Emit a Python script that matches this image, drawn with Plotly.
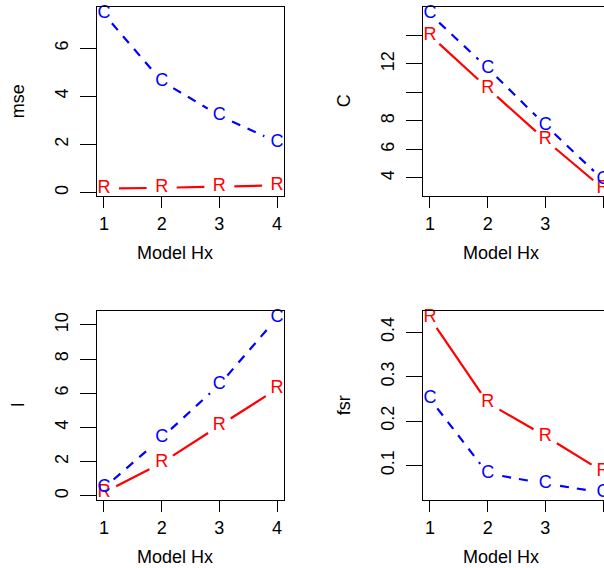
import math
import plotly.graph_objects as go

# ---------------- data ----------------
hx = [1, 2, 3, 4]
mse_R = [0.17, 0.20, 0.25, 0.30]
mse_C = [7.42, 4.63, 3.20, 2.10]
C_R = [14.0, 10.3, 6.66, 3.25]
C_C = [15.5, 11.7, 7.70, 3.86]
I_R = [0.20, 1.93, 4.10, 6.26]
I_C = [0.47, 3.40, 6.50, 10.40]
fsr_R = [0.432, 0.241, 0.166, 0.086]
fsr_C = [0.250, 0.082, 0.059, 0.039]

x_ticks = [1, 2, 3, 4]
mse_ticks = [0, 2, 4, 6]
C_ticks = [4, 6, 8, 10, 12, 14]
C_ticklabels = ["4", "6", "8", "", "12", ""]
I_ticks = [0, 2, 4, 6, 8, 10]
fsr_ticks = [0.1, 0.2, 0.3, 0.4]

ylabels = ["mse", "C", "I", "fsr"]
xlabel = "Model Hx"

# ---------------- layout geometry (pixels) ----------------
W, H = 604, 568
BOX_W, BOX_H = 187, 188.5
panels = [
    dict(x0=97, y0=7, R=mse_R, C=mse_C, tv=mse_ticks, tt=None, lab=ylabels[0]),
    dict(x0=423, y0=7, R=C_R, C=C_C, tv=C_ticks, tt=C_ticklabels, lab=ylabels[1]),
    dict(x0=97, y0=311, R=I_R, C=I_C, tv=I_ticks, tt=None, lab=ylabels[2]),
    dict(x0=423, y0=311, R=fsr_R, C=fsr_C, tv=fsr_ticks, tt=None, lab=ylabels[3]),
]
FONT = "Liberation Sans, Arial, Helvetica, sans-serif"
FS = 18
RX, RY = 15, 11  # gap around point glyphs (px)


def rrange(vals):
    lo, hi = min(vals), max(vals)
    e = (hi - lo) * 0.04
    return [lo - e, hi + e]


fig = go.Figure()
annotations = []

for k, p in enumerate(panels):
    idx = "" if k == 0 else str(k + 1)
    xr = rrange(hx)
    yr = rrange(p["R"] + p["C"])
    x0, y0 = p["x0"], p["y0"]
    x1 = min(x0 + BOX_W, W)
    xr_vis = [xr[0], xr[0] + (x1 - x0) / BOX_W * (xr[1] - xr[0])]

    def to_px(x, y):
        return (x0 + (x - xr[0]) / (xr[1] - xr[0]) * BOX_W,
                y0 + (yr[1] - y) / (yr[1] - yr[0]) * BOX_H)

    def to_data(px, py):
        return (xr[0] + (px - x0) / BOX_W * (xr[1] - xr[0]),
                yr[1] - (py - y0) / BOX_H * (yr[1] - yr[0]))

    def gapped(ys):
        sx, sy = [], []
        for i in range(len(hx) - 1):
            ax, ay = to_px(hx[i], ys[i])
            bx, by = to_px(hx[i + 1], ys[i + 1])
            dx, dy = bx - ax, by - ay
            L = math.hypot(dx, dy)
            ux, uy = dx / L, dy / L
            t = 1 / math.sqrt((ux / RX) ** 2 + (uy / RY) ** 2)
            if 2 * t >= L:
                continue
            s = to_data(ax + ux * t, ay + uy * t)
            e = to_data(bx - ux * t, by - uy * t)
            sx += [s[0], e[0], None]
            sy += [s[1], e[1], None]
        return sx, sy

    xa, ya = "x" + idx, "y" + idx
    for ser, col, dash, letter in [(p["R"], "#ff0000", "solid", "R"),
                                   (p["C"], "#0000ff", "9px,8px", "C")]:
        sx, sy = gapped(ser)
        fig.add_trace(go.Scatter(x=sx, y=sy, mode="lines", xaxis=xa, yaxis=ya,
                                 line=dict(color=col, width=2.2, dash=dash),
                                 hoverinfo="skip", showlegend=False))
        fig.add_trace(go.Scatter(x=hx, y=ser, mode="text", text=[letter] * len(hx),
                                 textposition="middle center", xaxis=xa, yaxis=ya,
                                 textfont=dict(color=col, size=FS, family=FONT),
                                 cliponaxis=False, showlegend=False))

    axis_common = dict(showline=True, linecolor="black", linewidth=1.3,
                       showgrid=False, zeroline=False, ticks="outside",
                       tickcolor="black", tickwidth=1.2,
                       tickfont=dict(size=FS, family=FONT, color="black"))
    xkey = "xaxis" + idx
    ykey = "yaxis" + idx
    fig.layout[xkey] = dict(axis_common, domain=[x0 / W, x1 / W], range=xr_vis,
                            tickvals=x_ticks, ticklen=11, mirror=True,
                            anchor=ya, fixedrange=True, ticklabelstandoff=1)
    ykw = dict(axis_common, domain=[(H - y0 - BOX_H) / H, (H - y0) / H], range=yr,
               tickvals=p["tv"], ticklen=16, tickangle=-90,
               mirror=(x0 + BOX_W <= W), anchor=xa, fixedrange=True,
               ticklabelstandoff=5)
    if p["tt"] is not None:
        ykw["ticktext"] = p["tt"]
    fig.layout[ykey] = ykw

    annotations.append(dict(text=xlabel, xref="paper", yref="paper",
                            x=(x0 + 78) / W, y=(H - (y0 + BOX_H + 57)) / H,
                            xanchor="center", yanchor="middle", showarrow=False,
                            font=dict(size=FS, family=FONT, color="black")))
    annotations.append(dict(text=p["lab"], xref="paper", yref="paper",
                            x=(x0 - 79) / W, y=(H - (y0 + BOX_H / 2)) / H,
                            xanchor="center", yanchor="middle", textangle=-90,
                            showarrow=False,
                            font=dict(size=FS, family=FONT, color="black")))

fig.update_layout(width=W, height=H, margin=dict(l=0, r=0, t=0, b=0),
                  paper_bgcolor="white", plot_bgcolor="white",
                  annotations=annotations, showlegend=False)
fig.write_html("out.html", config=dict(displayModeBar=False))
